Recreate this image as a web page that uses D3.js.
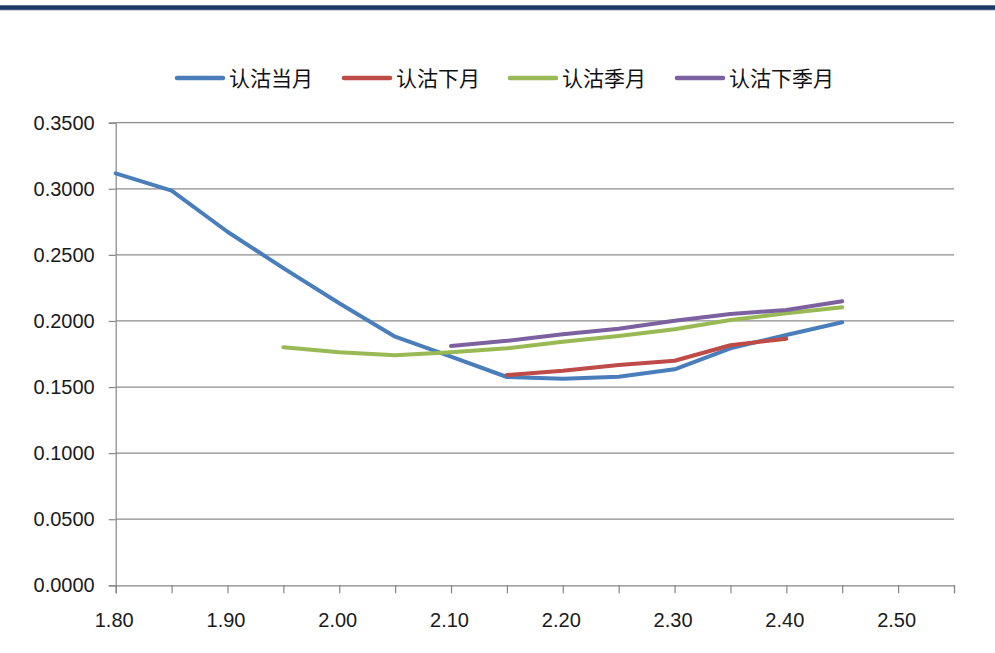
<!DOCTYPE html>
<html>
<head>
<meta charset="utf-8">
<script src="https://cdn.jsdelivr.net/npm/d3@7"></script>
<style>
  html, body { margin: 0; padding: 0; background: #fff; }
  svg { display: block; }
</style>
</head>
<body>
<div id="chart"></div>
<script>
// strike prices (x categories)
const strikes = [1.80, 1.85, 1.90, 1.95, 2.00, 2.05, 2.10, 2.15, 2.20, 2.25, 2.30, 2.35, 2.40, 2.45, 2.50, 2.55];
const xTickLabels = [1.80, 1.90, 2.00, 2.10, 2.20, 2.30, 2.40, 2.50];
const yTickValues = [0, 0.05, 0.10, 0.15, 0.20, 0.25, 0.30, 0.35];

// implied volatility per contract month, null = no contract
const putThisMonth    = [0.3117, 0.2986, 0.2675, 0.2400, 0.2134, 0.1881, 0.1730, 0.1576, 0.1563, 0.1578, 0.1634, 0.1793, 0.1894, 0.1990, null, null];
const putNextMonth    = [null, null, null, null, null, null, null, 0.1591, 0.1624, 0.1667, 0.1699, 0.1816, 0.1866, null, null, null];
const putThisQuarter  = [null, null, null, 0.1801, 0.1763, 0.1740, 0.1763, 0.1793, 0.1843, 0.1886, 0.1937, 0.2007, 0.2058, 0.2103, null, null];
const putNextQuarter  = [null, null, null, null, null, null, 0.1810, 0.1850, 0.1900, 0.1941, 0.2002, 0.2053, 0.2083, 0.2149, null, null];

const seriesNames = ["认沽当月", "认沽下月", "认沽季月", "认沽下季月"];
const seriesColors = ["#4A7EBB", "#BE4B48", "#98B954", "#7D60A0"];
const seriesValues = [putThisMonth, putNextMonth, putThisQuarter, putNextQuarter];

const width = 995, height = 653;
const margin = {top: 122.7, right: 41, bottom: 67.7, left: 115.7};

const svg = d3.select("#chart")
    .append("svg")
    .attr("width", width)
    .attr("height", height);

// dark band across the top of the slide
svg.append("rect")
    .attr("x", 0).attr("y", 5.3)
    .attr("width", width).attr("height", 4.6)
    .attr("fill", "#1B3762");
svg.append("line")
    .attr("x1", 0).attr("x2", width)
    .attr("y1", 9.9).attr("y2", 9.9)
    .attr("stroke", "#5D7597").attr("stroke-width", 0.8);

const x = d3.scaleLinear()
    .domain([1.80, 2.55])
    .range([margin.left, width - margin.right]);

const y = d3.scaleLinear()
    .domain([0, 0.35])
    .range([height - margin.bottom, margin.top]);

// horizontal gridlines
svg.append("g")
    .selectAll("line")
    .data(yTickValues.filter(d => d > 0))
    .join("line")
    .attr("x1", x(1.80))
    .attr("x2", x(2.55))
    .attr("y1", d => y(d))
    .attr("y2", d => y(d))
    .attr("stroke", "#8C8C8C")
    .attr("stroke-width", 1.2);

// y axis
const yAxis = svg.append("g")
    .attr("transform", `translate(${margin.left},0)`)
    .call(d3.axisLeft(y)
        .tickValues(yTickValues)
        .tickFormat(d3.format(".4f"))
        .tickSize(7)
        .tickPadding(14));
yAxis.select(".domain").attr("stroke", "#868686").attr("stroke-width", 1.2);
yAxis.selectAll(".tick line").attr("stroke", "#868686").attr("stroke-width", 1.2);
yAxis.selectAll("text")
    .style("font-family", "'Liberation Sans', Arial, sans-serif")
    .style("font-size", "20px")
    .attr("fill", "#1a1a1a");

// x axis: ticks every 0.05, labels every 0.10
const xAxis = svg.append("g")
    .attr("transform", `translate(0,${height - margin.bottom})`)
    .call(d3.axisBottom(x)
        .tickValues(strikes)
        .tickFormat(d => xTickLabels.some(v => Math.abs(v - d) < 1e-9) ? d3.format(".2f")(d) : "")
        .tickSize(8)
        .tickPadding(20));
xAxis.select(".domain").attr("stroke", "#868686").attr("stroke-width", 1.2);
xAxis.selectAll(".tick line").attr("stroke", "#868686").attr("stroke-width", 1.2);
xAxis.selectAll("text")
    .attr("dx", -2)
    .style("font-family", "'Liberation Sans', Arial, sans-serif")
    .style("font-size", "20px")
    .attr("fill", "#1a1a1a");

// series lines
const line = d3.line()
    .defined(d => d.v !== null)
    .x(d => x(d.k))
    .y(d => y(d.v));

seriesValues.forEach((vals, i) => {
    const pts = strikes.map((k, j) => ({k: k, v: vals[j]}));
    svg.append("path")
        .datum(pts)
        .attr("fill", "none")
        .attr("stroke", seriesColors[i])
        .attr("stroke-width", 4)
        .attr("stroke-linejoin", "round")
        .attr("stroke-linecap", "round")
        .attr("d", line);
});

// legend
const legendX = [177, 344, 510, 677];
const legend = svg.append("g");
seriesNames.forEach((name, i) => {
    const g = legend.append("g").attr("transform", `translate(${legendX[i]},78)`);
    g.append("line")
        .attr("x1", 0).attr("x2", 46)
        .attr("y1", 0).attr("y2", 0)
        .attr("stroke", seriesColors[i])
        .attr("stroke-width", 4.5)
        .attr("stroke-linecap", "round");
    g.append("text")
        .attr("x", 52)
        .attr("y", 0)
        .attr("dy", "0.36em")
        .style("font-family", "'Noto Sans CJK SC', sans-serif")
        .style("font-size", "21px")
        .attr("fill", "#111")
        .text(name);
});
</script>
</body>
</html>
